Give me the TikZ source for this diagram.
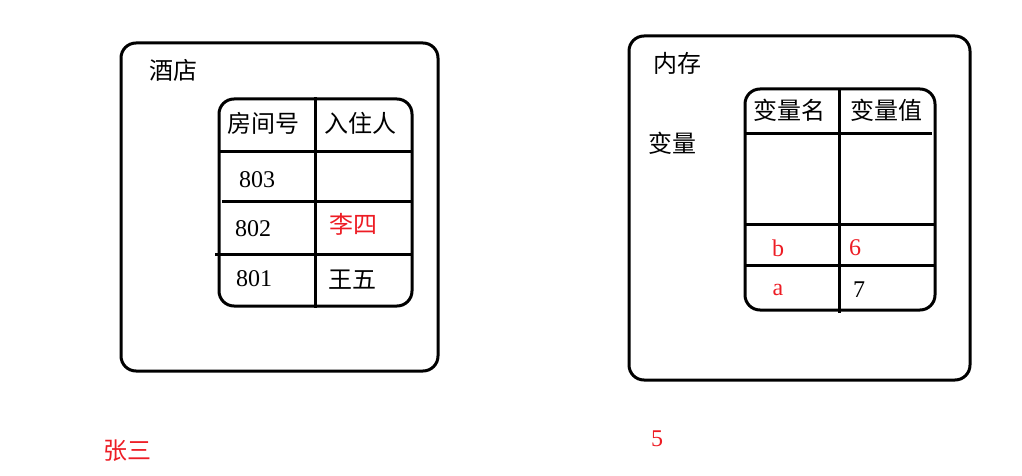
\documentclass[tikz,border=0pt]{standalone}
\usepackage{fontspec}
\setmainfont{Liberation Serif}
\newfontfamily\cjk{Noto Sans CJK SC}
\definecolor{rcol}{RGB}{237,28,36}
\tikzset{every picture/.style={x=1pt,y=-1pt}}
\tikzset{box/.style={draw,line width=3pt,rounded corners=15pt,inner sep=0pt}}
\tikzset{rule/.style={line width=3pt}}
\tikzset{word/.style={font=\cjk\fontsize{24}{24}\selectfont,inner sep=0pt}}
\tikzset{num/.style={font=\fontsize{24}{24}\selectfont,inner sep=0pt}}
\begin{document}
\begin{tikzpicture}
\useasboundingbox (0,0) rectangle (1022,476);

\node [box,minimum width=317pt,minimum height=328pt] (hotel) at (279.5,207) {};
\node [box,minimum width=193pt,minimum height=207pt] (rooms) at (315.5,202.5) {};

\node [box,minimum width=341pt,minimum height=344pt] (memory) at (799.5,208) {};
\node [box,minimum width=190pt,minimum height=221pt] (vars) at (840,199.5) {};

\coordinate (r1l) at (219,151);
\coordinate (r1r) at (412,151);
\coordinate (r2l) at (222,201);
\coordinate (r2r) at (412,201);
\coordinate (r3l) at (215,254);
\coordinate (r3r) at (413,254);

\coordinate (vc1) at (839,89);
\coordinate (vc2) at (839,313);
\coordinate (v1l) at (745,134);
\coordinate (v1r) at (932,134);
\coordinate (v2l) at (745,224);
\coordinate (v2r) at (935,224);
\coordinate (v3l) at (745,265);
\coordinate (v3r) at (935,265);

\draw [rule] (rooms.north) -- (rooms.south);
\draw [rule] (r1l) -- (r1r);
\draw [rule] (r2l) -- (r2r);
\draw [rule] (r3l) -- (r3r);

\draw [rule] (vc1) -- (vc2);
\draw [rule] (v1l) -- (v1r);
\draw [rule] (v2l) -- (v2r);
\draw [rule] (v3l) -- (v3r);

\node [word] (hname) at (173,70) {酒店};
\node [word] (roomno) at (263,123) {房间号};
\node [word] (guest) at (360,123) {入住人};
\node [num] (n803) at (257,180) {803};
\node [num] (n802) at (253,229) {802};
\node [num] (n801) at (254,279) {801};
\node [word,rcol] (lisi) at (353,224) {李四};
\node [word] (wangwu) at (352,280) {王五};

\node [word] (mname) at (677,63) {内存};
\node [word] (vlabel) at (672,143) {变量};
\node [word] (vname) at (789,110) {变量名};
\node [word] (vvalue) at (886,110) {变量值};
\node [num,rcol] (vb) at (778,248) {b};
\node [num,rcol] (vb6) at (855,248) {6};
\node [num,rcol] (va) at (778,290) {a};
\node [num] (va7) at (859,290) {7};

\node [word,rcol] (zhangsan) at (127,451) {张三};
\node [num,rcol] (five) at (657,439) {5};
\end{tikzpicture}
\end{document}
